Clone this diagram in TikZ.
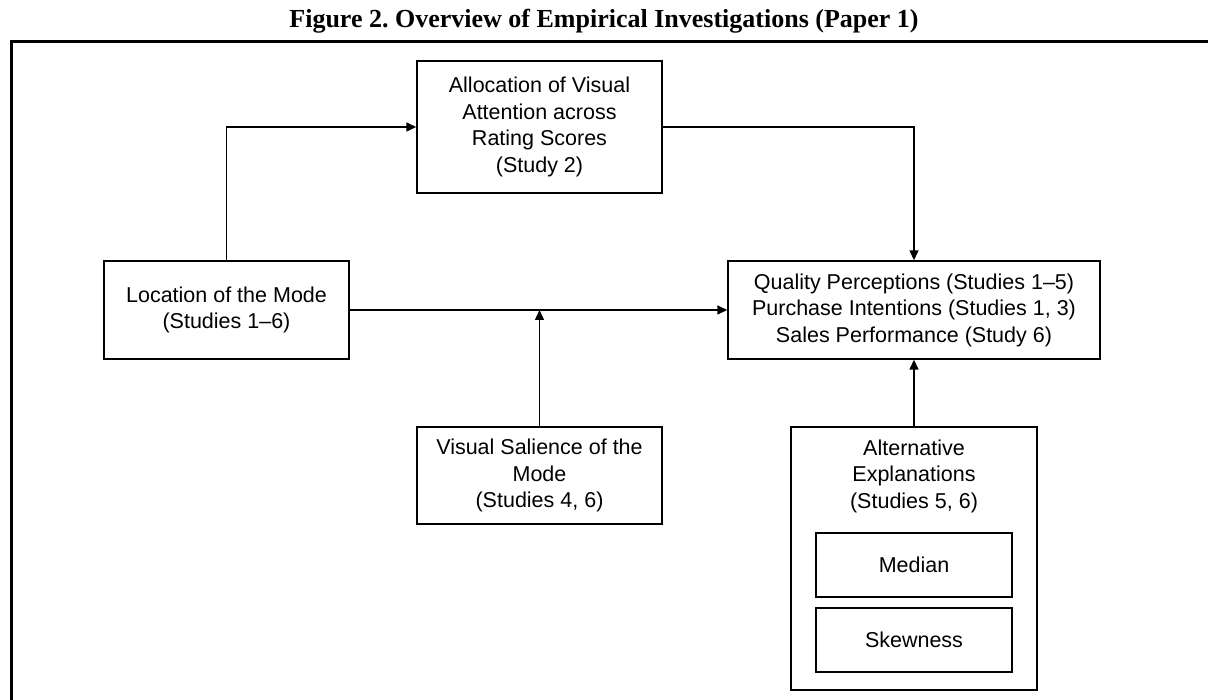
\documentclass[tikz,border=0pt]{standalone}
\usepackage{fontspec}
\setmainfont{Liberation Sans}
\newfontfamily\titlefont{Liberation Serif}
\usetikzlibrary{arrows.meta}
\frenchspacing
\begin{document}
\begin{tikzpicture}[x=1pt,y=-1pt,
  box/.style={draw,line width=1.4pt,align=center,inner sep=0pt,
    font=\fontsize{21.5}{26.5}\selectfont},
  txt/.style={align=center,inner sep=0pt,font=\fontsize{21.5}{26.5}\selectfont},
  link/.style={line width=1.4pt,-{Triangle[length=10pt,width=9pt]}},
  frame/.style={line width=3pt}]
\useasboundingbox (0,0) rectangle (1208,700);

% heading
\node[font=\titlefont\bfseries\fontsize{26}{30}\selectfont,inner sep=0pt] (title) at (604,21) {Figure 2. Overview of Empirical Investigations (Paper 1)};

% outer frame (open to the right and bottom)
\coordinate (fbl) at (11,720);
\coordinate (ftl) at (11,42);
\coordinate (ftr) at (1230,42);
\draw[frame] (fbl) -- (ftl) -- (ftr);

% boxes
\node[box,minimum width=245pt,minimum height=132pt] (alloc) at (539.5,127)
  {Allocation of Visual\\Attention across\\Rating Scores\\(Study 2)};
\node[box,minimum width=245pt,minimum height=98pt] (loc) at (226.5,310)
  {Location of the Mode\\(Studies 1--6)};
\node[box,minimum width=372pt,minimum height=98pt] (qual) at (914,310)
  {Quality Perceptions (Studies 1--5)\\Purchase Intentions (Studies 1, 3)\\Sales Performance (Study 6)};
\node[box,minimum width=245pt,minimum height=97pt] (sal) at (539.5,475.5)
  {Visual Salience of the\\Mode\\(Studies 4, 6)};
\node[draw,line width=1.4pt,minimum width=246pt,minimum height=263pt] (alt) at (914,558.5) {};
\node[txt] (alttext) at (914,476) {Alternative\\Explanations\\(Studies 5, 6)};
\node[box,minimum width=196pt,minimum height=64pt] (median) at (914,565) {Median};
\node[box,minimum width=196pt,minimum height=64pt] (skew) at (914,640) {Skewness};

% connectors
\coordinate (join) at (sal.north |- loc.east);
\draw[link] (loc.north) |- (alloc.west);
\draw[link] (alloc.east) -| (qual.north);
\draw[link] (loc.east) -- (qual.west);
\draw[link] (sal.north) -- (join);
\draw[link] (alt.north) -- (qual.south);
\end{tikzpicture}
\end{document}
